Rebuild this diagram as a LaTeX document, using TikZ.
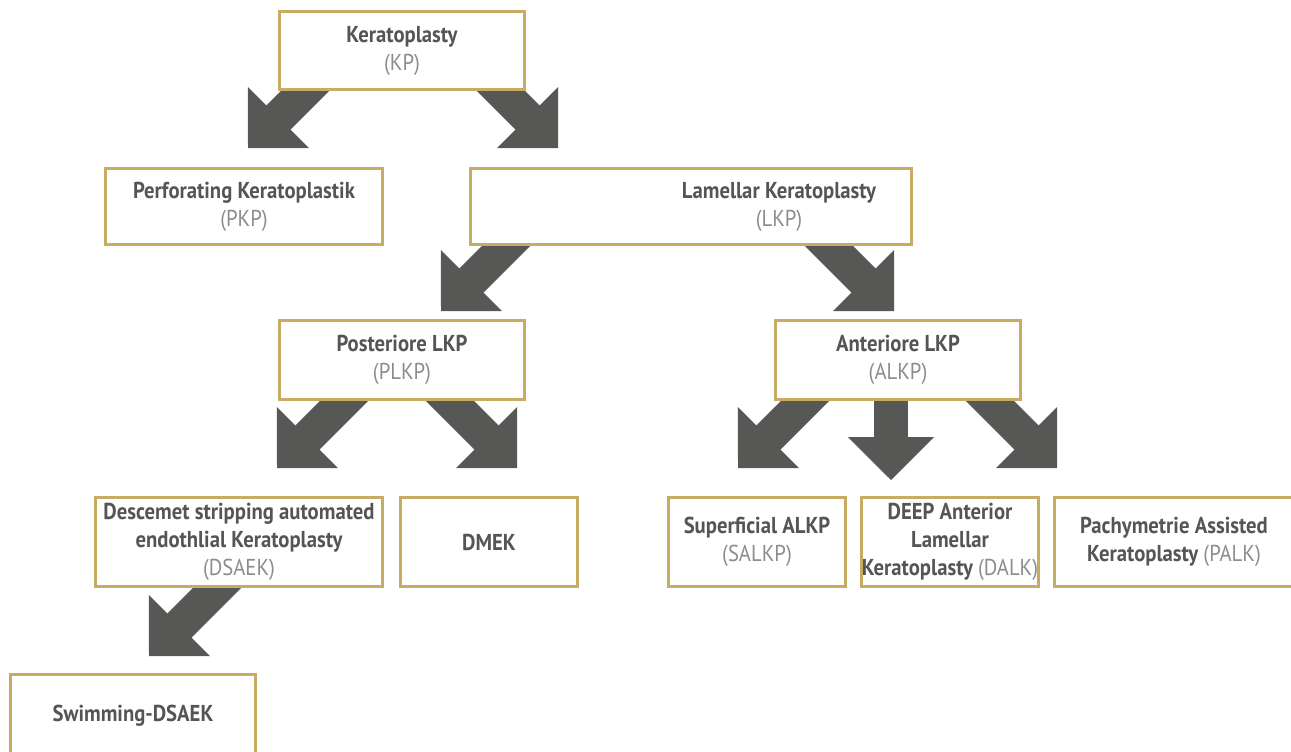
\documentclass[tikz,border=0pt]{standalone}
\usepackage{fontspec}
\setmainfont[FakeStretch=0.9]{PT Sans}
\usetikzlibrary{arrows.meta,calc,backgrounds}
\definecolor{gold}{RGB}{200,172,98}
\definecolor{arrowgray}{RGB}{87,87,85}
\definecolor{textgray}{RGB}{85,85,85}
\definecolor{abbrgray}{RGB}{140,140,140}
\newcommand{\abbr}[1]{{\mdseries\color{abbrgray}#1}}
\tikzset{
  box/.style={draw=gold, line width=3pt, fill=white, align=center, inner sep=0pt,
    text=textgray, font=\fontsize{23}{28}\selectfont\bfseries},
  boxtext/.style={align=center, inner sep=0pt, text=textgray,
    font=\fontsize{23}{28}\selectfont\bfseries},
  bigarrow/.style={arrowgray, line width=34pt,
    -{Triangle[length=43pt,width=86pt,line width=1pt]}}
}

\begin{document}
\begin{tikzpicture}[x=1pt,y=-1pt]
  \useasboundingbox (0,0) rectangle (1291,752);
  % top
  \node[box, minimum width=245, minimum height=78] (kp) at (402,50.5) {Keratoplasty\\\abbr{(KP)}};
  % second row
  \node[box, minimum width=277, minimum height=76] (pkp) at (244,206.5) {Perforating Keratoplastik\\\abbr{(PKP)}};
  \node[box, minimum width=441, minimum height=76] (lkp) at (691,206.5) {};
  \node[boxtext, xshift=88] (lkp-text) at (lkp) {Lamellar Keratoplasty\\\abbr{(LKP)}};
  % third row
  \node[box, minimum width=245, minimum height=79] (plkp) at (402,360) {Posteriore LKP\\\abbr{(PLKP)}};
  \node[box, minimum width=245, minimum height=79] (alkp) at (898,360) {Anteriore LKP\\\abbr{(ALKP)}};
  % fourth row
  \node[box, minimum width=287, minimum height=89] (dsaek) at (239,542) {Descemet stripping automated\\endothlial Keratoplasty\\\abbr{(DSAEK)}};
  \node[box, minimum width=177, minimum height=89] (dmek) at (489,542) {DMEK};
  \node[box, minimum width=177, minimum height=89] (salkp) at (757,542) {Superficial ALKP\\\abbr{(SALKP)}};
  \node[box, minimum width=177, minimum height=89] (dalk) at (950,542) {DEEP Anterior\\Lamellar\\Keratoplasty \abbr{(DALK)}};
  \node[box, minimum width=239, minimum height=89] (palk) at (1174,542) {Pachymetrie Assisted\\Keratoplasty \abbr{(PALK)}};
  % last
  \node[box, minimum width=245, minimum height=83] (swim) at (133,715.5) {Swimming-DSAEK};
  % arrows
  \begin{scope}[on background layer]
    \coordinate (kp-pkp) at (248,148);
    \coordinate (kp-lkp) at (558,148);
    \coordinate (lkp-plkp) at (441,311);
    \coordinate (lkp-alkp) at (894,311);
    \coordinate (plkp-dsaek) at (277,468);
    \coordinate (plkp-dmek) at (517,468);
    \coordinate (alkp-salkp) at (738,468);
    \coordinate (alkp-dalk) at (891,480);
    \coordinate (alkp-palk) at (1057,468);
    \coordinate (dsaek-swim) at (149,656);
    \draw[bigarrow] ($(kp-pkp)+(90,-90)$) -- (kp-pkp);
    \draw[bigarrow] ($(kp-lkp)+(-90,-90)$) -- (kp-lkp);
    \draw[bigarrow] ($(lkp-plkp)+(90,-90)$) -- (lkp-plkp);
    \draw[bigarrow] ($(lkp-alkp)+(-90,-90)$) -- (lkp-alkp);
    \draw[bigarrow] ($(plkp-dsaek)+(90,-90)$) -- (plkp-dsaek);
    \draw[bigarrow] ($(plkp-dmek)+(-90,-90)$) -- (plkp-dmek);
    \draw[bigarrow] ($(alkp-salkp)+(90,-90)$) -- (alkp-salkp);
    \draw[bigarrow] (alkp-dalk |- alkp) -- (alkp-dalk);
    \draw[bigarrow] ($(alkp-palk)+(-90,-90)$) -- (alkp-palk);
    \draw[bigarrow] ($(dsaek-swim)+(90,-90)$) -- (dsaek-swim);
  \end{scope}
\end{tikzpicture}
\end{document}
